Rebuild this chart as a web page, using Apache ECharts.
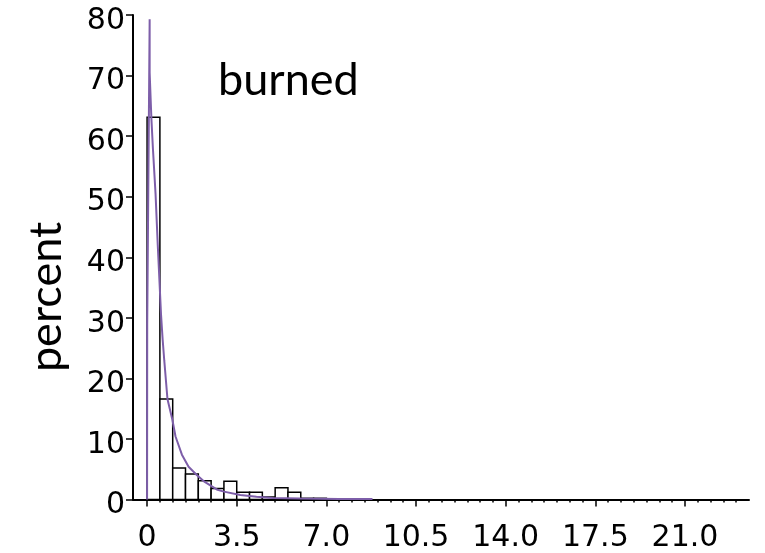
<!DOCTYPE html>
<html>
<head>
<meta charset="utf-8">
<script src="https://cdn.jsdelivr.net/npm/echarts@6/dist/echarts.min.js"></script>
<style>
  html, body { margin: 0; padding: 0; background: #fff; }
  #chart { width: 765px; height: 553px; }
</style>
</head>
<body>
<div id="chart"></div>
<script>
// histogram bins (left edge) and percent per bin
const binStarts = [0, 0.5, 1.0, 1.5, 2.0, 2.5, 3.0, 3.5, 4.0, 4.5, 5.0, 5.5, 6.0, 6.5, 7.0, 7.5, 8.0];
const binPercent = [63.1, 16.6, 5.2, 4.2, 3.1, 1.8, 3.0, 1.2, 1.2, 0.4, 1.95, 1.2, 0.2, 0.2, 0.1, 0.1, 0.1];
const binWidth = 0.5;

// fitted density curve
const curveX = [0, 0.005, 0.1, 0.1, 0.167, 0.227, 0.33, 0.417, 0.545, 0.606, 0.67, 0.795, 0.985, 1.11, 1.36, 1.62, 1.93, 2.25, 2.75, 3.0, 3.64, 4.27, 4.9, 6.0, 7.5, 8.8];
const curveY = [0, 29, 79.3, 70.5, 63, 58, 50.5, 42, 30.5, 26.5, 23, 16.6, 13.2, 10.4, 7.4, 5.4, 4.1, 2.9, 1.6, 1.3, 0.75, 0.46, 0.25, 0.15, 0.1, 0.1];

// axis ticks
const xMajorTicks = [0, 3.5, 7.0, 10.5, 14.0, 17.5, 21.0];
const xMinorStep = 0.5;
const xTickEnd = 23.0;

const xMinorTicks = [];
for (let v = 0; v <= xTickEnd + 1e-9; v += xMinorStep) xMinorTicks.push(Math.round(v * 10) / 10);

const chart = echarts.init(document.getElementById('chart'));

const labelFont = 'DejaVu Sans';
const xMin = -0.55, xMax = 23.5;

const option = {
    animation: false,
    grid: { left: 133, right: 16, top: 15, bottom: 53.5, containLabel: false, outerBoundsMode: 'none' },
    xAxis: [
        {
            type: 'value',
            min: xMin,
            max: xMax,
            splitLine: { show: false },
            axisLine: { show: true, onZero: false, lineStyle: { color: '#000', width: 2 } },
            axisTick: { show: true, customValues: xMajorTicks, length: 7, lineStyle: { color: '#000', width: 1.5 } },
            axisLabel: {
                customValues: xMajorTicks,
                color: '#000',
                fontFamily: labelFont,
                fontSize: 30,
                margin: 24,
                formatter: v => (v === 0 ? '0' : v.toFixed(1))
            }
        },
        {
            type: 'value',
            min: xMin,
            max: xMax,
            position: 'bottom',
            splitLine: { show: false },
            axisLine: { show: false, onZero: false },
            axisTick: { show: true, customValues: xMinorTicks, length: 3, lineStyle: { color: '#000', width: 1.5 } },
            axisLabel: { show: false }
        }
    ],
    yAxis: {
        type: 'value',
        min: 0,
        max: 80,
        interval: 10,
        splitLine: { show: false },
        axisLine: { show: true, onZero: false, lineStyle: { color: '#000', width: 2 } },
        axisTick: { show: true, length: 7, lineStyle: { color: '#000', width: 1.5 } },
        axisLabel: { color: '#000', fontFamily: labelFont, fontSize: 30, margin: 8, verticalAlign: 'top', lineHeight: 30, padding: [-9, 0, 0, 0] }
    },
    graphic: [
        {
            type: 'text',
            x: 218,
            y: 58,
            style: { text: 'burned', fontFamily: 'Lato', fontSize: 45, fill: '#000' }
        },
        {
            type: 'text',
            x: 46,
            y: 297,
            rotation: Math.PI / 2,
            style: { text: 'percent', fontFamily: 'Lato', fontSize: 45, fill: '#000', align: 'center', verticalAlign: 'middle' }
        }
    ],
    series: [
        {
            type: 'custom',
            xAxisIndex: 0,
            data: binStarts.map((b, i) => [b, binPercent[i]]),
            renderItem: (params, api) => {
                const x0 = api.value(0);
                const h = api.value(1);
                const p0 = api.coord([x0, 0]);
                const p1 = api.coord([x0 + binWidth, h]);
                return {
                    type: 'rect',
                    shape: { x: p0[0], y: p1[1], width: p1[0] - p0[0], height: p0[1] - p1[1] },
                    style: { fill: '#fff', stroke: '#000', lineWidth: 1.5 }
                };
            },
            z: 2
        },
        {
            type: 'line',
            xAxisIndex: 0,
            data: curveX.map((x, i) => [x, curveY[i]]),
            showSymbol: false,
            smooth: false,
            lineStyle: { color: '#7d5ea9', width: 2 },
            z: 3
        }
    ]
};

chart.setOption(option);
</script>
</body>
</html>
